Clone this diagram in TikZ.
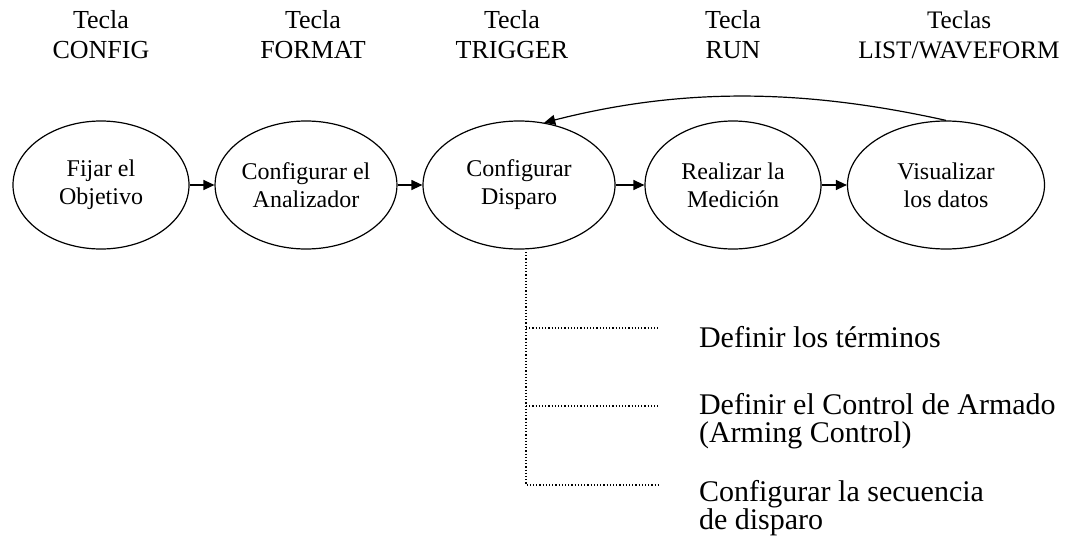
\documentclass[tikz,border=0pt]{standalone}
\usepackage{fontspec}
\setmainfont{Liberation Serif}
\usetikzlibrary{shapes.geometric,arrows.meta}
\tikzset{
  paso/.style={draw,ellipse,line width=0.6pt,minimum width=88pt,minimum height=64pt,
    inner sep=0pt,align=center,font=\fontsize{12}{14}\selectfont},
  tecla/.style={align=center,font=\fontsize{13}{15}\selectfont},
  tarea/.style={anchor=west,align=left,font=\fontsize{15}{14}\selectfont},
  flecha/.style={line width=0.6pt,-{Triangle[length=5.5pt,width=5pt]}},
  rama/.style={line width=0.6pt,densely dotted}
}

\begin{document}
\begin{tikzpicture}[x=0.5pt,y=-0.5pt]
  \useasboundingbox (0,0) rectangle (1068,540);

  % teclas
  \node[tecla] (k1) at (101,35) {Tecla\\CONFIG};
  \node[tecla] (k2) at (313,35) {Tecla\\FORMAT};
  \node[tecla] (k3) at (512,35) {Tecla\\TRIGGER};
  \node[tecla] (k4) at (733,35) {Tecla\\RUN};
  \node[tecla,font=\fontsize{12.6}{15}\selectfont] (k5) at (959,35) {Teclas\\LIST/WAVEFORM};

  % pasos
  \node[paso] (e1) at (101,185) {Fijar el\\Objetivo};
  \node[paso] (e2) at (306,185) {Configurar el\\Analizador};
  \node[paso,minimum width=96pt] (e3) at (519,185) {Configurar\\Disparo};
  \node[paso] (e4) at (733,185) {Realizar la\\Medición};
  \node[paso,minimum width=98.5pt] (e5) at (946,185) {Visualizar\\los datos};

  \draw[flecha] (e1) -- (e2);
  \draw[flecha] (e2) -- (e3);
  \draw[flecha] (e3) -- (e4);
  \draw[flecha] (e4) -- (e5);
  \draw[flecha] (e5.north) .. controls (800,88) and (680,88) .. (e3.68);

  % subtareas de disparo
  \node[tarea] (t1) at (692,337) {Definir los términos};
  \node[tarea] (t2) at (692,421) {Definir el Control de Armado\\(Arming Control)};
  \node[tarea] (t3) at (692,508) {Configurar la secuencia\\de disparo};

  \coordinate (r0) at (526,252);
  \coordinate (r3) at (526,485);
  \coordinate (b1) at (660,328);
  \coordinate (b2) at (660,406);
  \coordinate (b3) at (660,485);
  \draw[rama] (r0) -- (r3) -- (b3);
  \draw[rama] (r0 |- b1) -- (b1);
  \draw[rama] (r0 |- b2) -- (b2);
\end{tikzpicture}
\end{document}
